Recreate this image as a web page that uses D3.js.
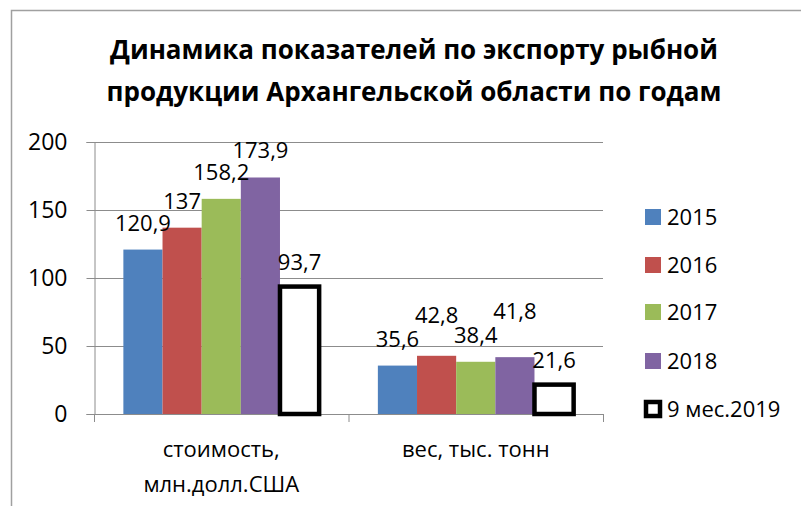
<!DOCTYPE html>
<html>
<head>
<meta charset="utf-8">
<script src="https://cdn.jsdelivr.net/npm/d3@7"></script>
<style>
  body { margin: 0; background: #fff; }
  svg text { font-family: "Open Sans", sans-serif; fill: #000; }
</style>
</head>
<body>
<svg id="chart" width="801" height="506"></svg>
<script>
// data
var categories = ["стоимость,\nмлн.долл.США", "вес, тыс. тонн"];
var seriesNames = ["2015", "2016", "2017", "2018", "9 мес.2019"];
var seriesColors = ["#4F81BD", "#C0504D", "#9BBB59", "#8064A2", "#FFFFFF"];
var values2015 = [120.9, 35.6];
var values2016 = [137, 42.8];
var values2017 = [158.2, 38.4];
var values2018 = [173.9, 41.8];
var values2019 = [93.7, 21.6];
var yTicks = [0, 50, 100, 150, 200];
var titleLines = ["Динамика показателей по экспорту рыбной", "продукции Архангельской области по годам"];

var allSeries = [values2015, values2016, values2017, values2018, values2019];

var svg = d3.select("#chart");
var width = 801, height = 506;

// frame of the chart area
svg.append("path")
  .attr("d", "M11.5,506 V10.5 H801")
  .attr("fill", "none")
  .attr("stroke", "#a0a0a0")
  .attr("stroke-width", 1.5);

// title
var title = svg.append("g").selectAll("text")
  .data(titleLines)
  .enter().append("text")
  .attr("x", 414)
  .attr("y", function(d, i){ return 59 + i * 42; })
  .attr("text-anchor", "middle")
  .style("font-size", "26px")
  .style("font-weight", "bold")
  .text(function(d){ return d; });
// fit first line to the width it has in the original (~608px)
var tw = title.node().getComputedTextLength();
title.style("font-size", (26 * 608 / tw).toFixed(1) + "px");

var plotLeft = 94, plotRight = 603, plotTop = 142, plotBottom = 414;

var x = d3.scaleBand().domain(d3.range(categories.length)).range([plotLeft, plotRight]);
var y = d3.scaleLinear().domain([0, 200]).range([plotBottom, plotTop]);
// 5 bars, gap width 150%
var barW = x.bandwidth() / (seriesNames.length + 1.5);
var xs = d3.scaleBand().domain(d3.range(seriesNames.length))
  .range([0, barW * seriesNames.length]);
var groupOffset = (x.bandwidth() - barW * seriesNames.length) / 2;

// gridlines
svg.append("g").selectAll("line")
  .data(yTicks.slice(1))
  .enter().append("line")
  .attr("x1", plotLeft).attr("x2", plotRight)
  .attr("y1", function(d){ return Math.round(y(d)) + 0.5; })
  .attr("y2", function(d){ return Math.round(y(d)) + 0.5; })
  .attr("stroke", "#8c8c8c")
  .attr("stroke-width", 1);

// y axis
var yAxis = svg.append("g")
  .attr("transform", "translate(" + (plotLeft + 0.5) + ",0)")
  .call(d3.axisLeft(y).tickValues(yTicks).tickSize(8).tickPadding(19).tickFormat(d3.format("d")));
yAxis.select(".domain").attr("stroke", "#8c8c8c");
yAxis.selectAll(".tick line").attr("stroke", "#8c8c8c");
yAxis.selectAll("text").style("font-size", "23px").attr("fill", "#000").style("font-family", "'Open Sans', sans-serif");

// x axis (ticks at category boundaries)
var bounds = [plotLeft, plotLeft + x.bandwidth(), plotRight];
svg.append("line")
  .attr("x1", plotLeft).attr("x2", plotRight)
  .attr("y1", plotBottom + 0.5).attr("y2", plotBottom + 0.5)
  .attr("stroke", "#8c8c8c");
svg.append("g").selectAll("line")
  .data(bounds)
  .enter().append("line")
  .attr("x1", function(d){ return d + 0.5; })
  .attr("x2", function(d){ return d + 0.5; })
  .attr("y1", plotBottom).attr("y2", plotBottom + 8)
  .attr("stroke", "#8c8c8c");

// category labels
var catG = svg.append("g").selectAll("text")
  .data(categories)
  .enter().append("text")
  .attr("text-anchor", "middle")
  .style("font-size", "22px");
catG.selectAll("tspan")
  .data(function(d, i){ return d.split("\n").map(function(s){ return {s: s, i: i}; }); })
  .enter().append("tspan")
  .attr("x", function(d){ return x(d.i) + x.bandwidth() / 2; })
  .attr("y", function(d, j){ return 457 + j * 35; })
  .text(function(d){ return d.s; });

// bars
allSeries.forEach(function(vals, s){
  var last = s === seriesNames.length - 1;
  svg.append("g").selectAll("rect")
    .data(vals)
    .enter().append("rect")
    .attr("x", function(d, i){ return x(i) + groupOffset + xs(s); })
    .attr("y", function(d){ return y(d); })
    .attr("width", barW)
    .attr("height", function(d){ return y(0) - y(d); })
    .attr("fill", seriesColors[s])
    .attr("stroke", last ? "#000" : "none")
    .attr("stroke-width", last ? 4.5 : 0);
});

// data labels, pushed up when they would collide with the neighbour on the left
var fmt = function(v){ return String(v).replace(".", ","); };
var labels = [];
categories.forEach(function(c, i){
  var prev = null;
  allSeries.forEach(function(vals, s){
    var last = s === seriesNames.length - 1;
    var ly = y(vals[i]) - (last ? 17 : 19);
    if (prev !== null && Math.abs(prev - ly) < 18) ly = prev - 24;
    prev = ly;
    labels.push({v: vals[i], cx: x(i) + groupOffset + xs(s) + barW / 2, y: ly});
  });
});
svg.append("g").selectAll("text")
  .data(labels)
  .enter().append("text")
  .attr("x", function(d){ return d.cx; })
  .attr("y", function(d){ return d.y; })
  .attr("text-anchor", "middle")
  .style("font-size", "22px")
  .text(function(d){ return fmt(d.v); });

// legend
var legendY = [217, 265, 312, 361, 409];
var leg = svg.append("g").selectAll("g")
  .data(seriesNames)
  .enter().append("g")
  .attr("transform", function(d, i){ return "translate(645," + legendY[i] + ")"; });
leg.append("rect")
  .attr("x", function(d, i){ return i === 4 ? 1 : 0; })
  .attr("y", function(d, i){ return i === 4 ? -7 : -8; })
  .attr("width", function(d, i){ return i === 4 ? 14 : 16; })
  .attr("height", function(d, i){ return i === 4 ? 14 : 16; })
  .attr("fill", function(d, i){ return seriesColors[i]; })
  .attr("stroke", function(d, i){ return i === 4 ? "#000" : "none"; })
  .attr("stroke-width", 4.5);
leg.append("text")
  .attr("x", 22)
  .attr("y", 8)
  .style("font-size", "22px")
  .text(function(d){ return d; });
</script>
</body>
</html>
